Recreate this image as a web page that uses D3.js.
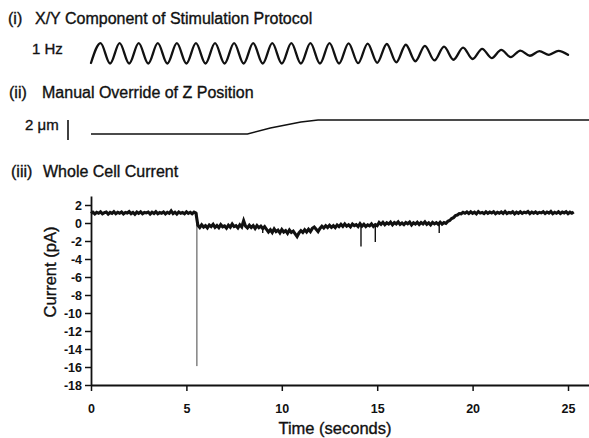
<!DOCTYPE html>
<html><head><meta charset="utf-8">
<script src="https://cdn.jsdelivr.net/npm/d3@7"></script>
<style>
body{margin:0;background:#fff}
svg{display:block}
text{font-family:"Liberation Sans",Arial,Helvetica,sans-serif;fill:#111}
.heavy{stroke:#111;stroke-width:0.35px}
</style>
</head><body>
<svg id="c" width="589" height="438"></svg>
<script>
// ---------- DATA ----------
const panelNumbers = ["(i)", "(ii)", "(iii)"];
const panelTitles = ["X/Y Component of Stimulation Protocol", "Manual Override of Z Position", "Whole Cell Current"];
const stimLabel = "1 Hz";
const zScaleLabel = "2 \u03bcm";
const xTitle = "Time (seconds)";
const yTitle = "Current (pA)";

// X/Y stimulus: normalized displacement at each extremum (every half second, 1 Hz)
const stimHalfPeriod = 0.5;
const stimExtrema = [
  -0.95, 1, -1, 1, -1, 1, -1, 1, -1, 1,
  -1, 1, -1, 1, -1, 1, -1, 1, -1, 1,
  -1, 1, -1, 1, -1, 1, -1, 0.98, -0.97, 0.95,
  -0.93, 0.91, -0.88, 0.84, -0.78, 0.73, -0.70, 0.66, -0.63, 0.56,
  -0.56, 0.44, -0.47, 0.34, -0.37, 0.27, -0.24, 0.21, -0.15, 0.24,
  -0.15
];

// Z position (µm relative to start)
const zTimes  = [0, 8.2, 9.4, 11.0, 11.9, 26.1];
const zValues = [0, 0,   0.6, 1.2,  1.4,  1.4];
const zBarLength = 2; // µm

// Whole cell current, sampled every 0.1 s (pA)
const currentInterval = 0.1;
const currentValues = [
  // 0.0 - 5.5
  1.05,1.20,1.00,1.18,1.08,1.24,1.02,1.15,1.22,0.99,
  1.17,1.06,1.25,1.03,1.19,1.09,1.23,1.01,1.16,1.10,
  1.26,1.04,1.18,0.98,1.21,1.07,1.24,1.02,1.17,1.12,
  1.22,1.00,1.19,1.06,1.25,1.03,1.16,1.09,1.23,1.01,
  1.18,1.07,1.34,1.05,1.20,0.99,1.22,1.08,1.17,1.03,
  1.24,1.06,1.19,1.02,1.21,1.10,
  // 5.6 - 7.9
  -0.25,-0.50,-0.20,-0.45,-0.30,-0.55,-0.22,-0.40,-0.15,-0.48,
  -0.28,-0.52,-0.18,-0.42,-0.33,-0.58,-0.24,-0.46,-0.12,-0.40,
  -0.30,-0.55,-0.20,-0.44,
  // 8.0 - 9.1
  0.25,-0.35,-0.55,-0.25,-0.50,-0.30,-0.60,-0.28,-0.52,-0.35,-0.62,-0.40,
  // 9.2 - 11.6
  -0.70,-1.00,-0.75,-1.05,-0.65,-0.95,-0.80,-1.10,-0.72,-1.00,
  -0.85,-1.15,-0.78,-1.05,-0.90,-1.20,-1.50,-1.10,-0.85,-1.05,
  -0.75,-1.00,-0.70,-0.95,-0.60,
  // 11.7 - 13.0
  -0.45,-0.70,-0.95,-0.60,-0.35,-0.55,-0.30,-0.50,-0.25,-0.48,-0.30,-0.52,-0.22,-0.40,
  // 13.1 - 15.0
  -0.15,-0.38,-0.10,-0.35,-0.20,-0.42,-0.12,-0.30,-0.18,-0.40,
  -0.08,-0.35,-0.15,-0.40,-0.20,-0.32,-0.10,-0.38,-0.18,-0.30,
  // 15.1 - 18.5
  0.05,-0.15,0.08,-0.18,0.02,-0.12,0.10,-0.20,0.04,-0.10,
  0.12,-0.15,0.00,-0.18,0.06,-0.08,0.10,-0.22,0.03,-0.12,
  0.08,-0.16,0.05,-0.10,0.12,-0.14,0.02,-0.20,0.07,-0.10,
  0.04,-0.15,0.09,-0.12,0.05,
  // 18.6 - 19.6
  -0.05,0.18,0.28,0.50,0.60,0.82,0.88,1.05,1.02,1.18,1.08,
  // 19.7 - 25.3
  1.22,1.05,1.25,1.08,1.20,1.02,1.27,1.10,1.18,1.04,
  1.24,1.07,1.21,1.12,1.26,1.03,1.19,1.09,1.23,1.06,
  1.28,1.05,1.17,1.11,1.25,1.02,1.20,1.08,1.24,1.06,
  1.19,1.13,1.27,1.04,1.21,1.09,1.23,1.07,1.18,1.12,
  1.26,1.05,1.22,1.10,1.28,1.03,1.19,1.08,1.24,1.06,
  1.21,1.12,1.25,1.04,1.20,1.09,1.23
];
// brief transients: start level and extreme (pA)
const transientTimes = [5.55, 9.0, 14.15, 14.9, 18.25];
const transientFrom  = [1.1, -0.5, -0.3, -0.3, 0.0];
const transientTo    = [-15.9, -1.1, -2.6, -2.1, -1.1];

const xMajorTicks = [0, 5, 10, 15, 20, 25];
const xMinorTicks = [2.5, 7.5, 12.5, 17.5, 22.5];
const yMajorTicks = [2, 0, -2, -4, -6, -8, -10, -12, -14, -16, -18];
const yMinorTicks = [3, 1, -1, -3, -5, -7, -9, -11, -13, -15, -17];

// ---------- CHART ----------
const svg = d3.select("#c");
const x = d3.scaleLinear().domain([0, 26.1]).range([91, 589]);
const yCur = d3.scaleLinear().domain([-18, 3]).range([385, 196]);
const yStim = d3.scaleLinear().domain([-1, 1]).range([63.5, 43.1]);
const yZ = d3.scaleLinear().domain([0, 1.4]).range([134, 120]);

// Titles
const titleY = [24, 98, 177];
const numX = [8, 9, 11];
const titleX = [35, 42, 43];
panelTitles.forEach((t, i) => {
  svg.append("text").attr("class", "heavy").attr("x", numX[i]).attr("y", titleY[i]).attr("font-size", 16).text(panelNumbers[i]);
  svg.append("text").attr("class", "heavy").attr("x", titleX[i]).attr("y", titleY[i]).attr("font-size", 16).text(t);
});

// (i) stimulus
svg.append("text").attr("class", "heavy").attr("x", 32).attr("y", 54).attr("font-size", 15).text(stimLabel);
svg.append("path")
  .datum(stimExtrema)
  .attr("fill", "none").attr("stroke", "#111").attr("stroke-width", 2.3)
  .attr("stroke-linejoin", "round").attr("stroke-linecap", "round")
  .attr("d", d3.line().x((d, i) => x(i * stimHalfPeriod)).y(d => yStim(d)).curve(d3.curveMonotoneX));

// (ii) Z position
svg.append("text").attr("class", "heavy").attr("x", 25).attr("y", 130).attr("font-size", 15).text(zScaleLabel);
svg.append("line")
  .attr("x1", 68).attr("x2", 68)
  .attr("y1", yZ(1.4)).attr("y2", yZ(1.4 - zBarLength))
  .attr("stroke", "#111").attr("stroke-width", 1.6);
svg.append("path")
  .datum(zTimes.map((t, i) => [t, zValues[i]]))
  .attr("fill", "none").attr("stroke", "#111").attr("stroke-width", 1.4)
  .attr("d", d3.line().x(d => x(d[0])).y(d => yZ(d[1])));

// (iii) current axes
const gy = svg.append("g").attr("transform", `translate(${x(0)},0)`);
gy.call(d3.axisLeft(yCur).tickValues(yMinorTicks).tickSize(3).tickSizeOuter(0).tickFormat(""));
gy.call(d3.axisLeft(yCur).tickValues(yMajorTicks).tickSize(6).tickSizeOuter(0).tickPadding(3)
  .tickFormat(d => d));
gy.selectAll("text").attr("font-size", 12.5).attr("font-weight", "bold").attr("font-family", null);
gy.selectAll("path,line").attr("stroke", "#111").attr("stroke-width", 1.5);

const gx = svg.append("g").attr("transform", `translate(0,${yCur(-18)})`);
gx.call(d3.axisBottom(x).tickValues(xMinorTicks).tickSize(3).tickSizeOuter(0).tickFormat(""));
gx.call(d3.axisBottom(x).tickValues(xMajorTicks).tickSize(6).tickSizeOuter(0).tickPadding(13));
gx.selectAll("text").attr("font-size", 12.5).attr("font-weight", "bold").attr("font-family", null);
gx.selectAll("path,line").attr("stroke", "#111").attr("stroke-width", 1.5);
svg.selectAll(".domain").attr("stroke-width", 1.8);

svg.append("text").attr("class", "heavy").attr("x", 335).attr("y", 434).attr("text-anchor", "middle").attr("font-size", 16.5).text(xTitle);
svg.append("text").attr("class", "heavy").attr("transform", "translate(56,272) rotate(-90)").attr("text-anchor", "middle").attr("font-size", 16.5).text(yTitle);

// transients
transientTimes.forEach((t, i) => {
  svg.append("line")
    .attr("x1", x(t)).attr("x2", x(t))
    .attr("y1", yCur(transientFrom[i])).attr("y2", yCur(transientTo[i]))
    .attr("stroke", i === 0 ? "#444" : "#111").attr("stroke-width", i === 0 ? 1 : 1.4);
});

// trace
svg.append("path")
  .datum(currentValues)
  .attr("fill", "none").attr("stroke", "#111").attr("stroke-width", 3.1)
  .attr("stroke-linejoin", "miter")
  .attr("d", d3.line().x((d, i) => x(i * currentInterval)).y(d => yCur(d)));
</script>
</body></html>
